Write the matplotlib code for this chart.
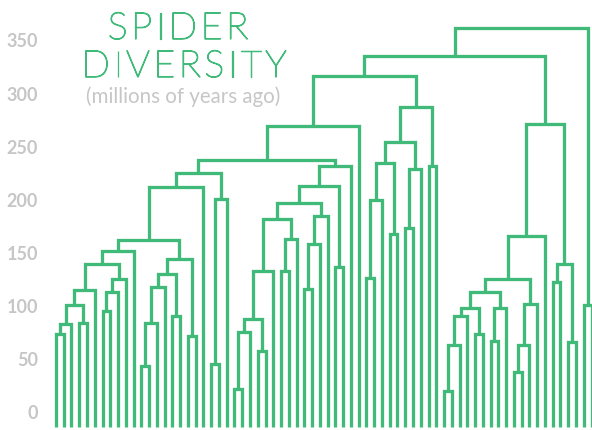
import matplotlib.pyplot as plt
import matplotlib.transforms as mtransforms
import matplotlib.patheffects as pe

plt.rcParams['font.family'] = ['Lato', 'DejaVu Sans']

GREEN = '#3fba78'
GREY = '#c6c6c6'

# tick values on the left (millions of years ago)
yticks = [0, 50, 100, 150, 200, 250, 300, 350]

n_leaves = 70
leaf_bottom = -13

# merges: (node, left child, right child, age)  -- ints are leaves
left_clade = [
    ('A', 0, 1, 74), ('B', 'A', 2, 84), ('C', 3, 4, 85), ('D', 'B', 'C', 102),
    ('E', 'D', 5, 116), ('F', 6, 7, 96), ('G', 'F', 8, 114), ('H', 'G', 9, 126),
    ('I', 'E', 'H', 140), ('J', 'I', 10, 152), ('K', 11, 12, 44.5), ('L', 'K', 13, 85),
    ('M', 'L', 14, 119), ('N', 15, 16, 91), ('O', 'M', 'N', 131), ('P', 17, 18, 72),
    ('Q', 'O', 'P', 145), ('R', 'J', 'Q', 163), ('S', 'R', 19, 213),
    ('T', 20, 21, 46), ('U', 'T', 22, 201), ('V', 'S', 'U', 226),
]
mid_clade = [
    ('a', 23, 24, 22.6), ('b', 'a', 25, 76), ('c', 26, 27, 58), ('d', 'b', 'c', 88.4),
    ('e', 'd', 28, 134), ('f', 29, 30, 134), ('g', 'f', 31, 163.7), ('h', 'e', 'g', 182.5),
    ('i', 32, 33, 117), ('j', 'i', 34, 159), ('k', 'j', 35, 185), ('l', 'h', 'k', 197.5),
    ('m', 36, 37, 137), ('n', 'l', 'm', 214), ('o', 'n', 38, 232),
    ('W', 'V', 'o', 238), ('X', 'W', 39, 270),
]
centre_clade = [
    ('p', 40, 41, 127), ('q', 'p', 42, 200.7), ('r', 43, 44, 168), ('s', 'q', 'r', 235),
    ('t', 45, 46, 173.7), ('u', 't', 47, 229.5), ('v', 's', 'u', 254.6),
    ('w', 48, 49, 232), ('x', 'v', 'w', 288), ('Y', 'X', 'x', 317),
]
right_clade = [
    ('aa', 50, 51, 21), ('bb', 'aa', 52, 64), ('cc', 'bb', 53, 91), ('dd', 54, 55, 74),
    ('ee', 'cc', 'dd', 98.5), ('ff', 56, 57, 68), ('gg', 'ff', 58, 98.5),
    ('hh', 'ee', 'gg', 113.5), ('ii', 59, 60, 39), ('jj', 'ii', 61, 64),
    ('kk', 'jj', 62, 102.5), ('ll', 'hh', 'kk', 126), ('mm', 'll', 63, 166.8),
    ('nn', 64, 65, 123), ('oo', 66, 67, 66.5), ('pp', 'nn', 'oo', 140),
    ('qq', 'mm', 'pp', 272), ('Z', 'Y', 'qq', 336),
    ('rr', 68, 69, 102), ('root', 'Z', 'rr', 362),
]

merges = left_clade + mid_clade + centre_clade + right_clade

fig = plt.figure(figsize=(5.92, 4.31), dpi=100)
ax = fig.add_axes([0, 0, 1, 1])
ax.axis('off')

pos = {i: (float(i), leaf_bottom) for i in range(n_leaves)}
for name, l, r, h in merges:
    xl, hl = pos[l]
    xr, hr = pos[r]
    ax.plot([xl, xl, xr, xr], [hl, h, h, hr], color=GREEN, lw=2.35,
            solid_joinstyle='miter', solid_capstyle='butt')
    pos[name] = ((xl + xr) / 2, h)

spacing = 7.77
ax.set_xlim(-56 / spacing, 69 + 0.5 / spacing)
ax.set_ylim(-16, 389.5)

trans = mtransforms.blended_transform_factory(ax.transAxes, ax.transData)
for v in yticks:
    ax.text(38 / 592, v, str(v), transform=trans, ha='right', va='center',
            fontsize=13, fontweight='bold', color=GREY)


def spaced(text, xc, ybase, track, **kw):
    # draw text letter by letter with extra tracking, centred at xc (pixels)
    rend = fig.canvas.get_renderer()
    widths = []
    for ch in text:
        t = fig.text(0, 0, ch, **kw)
        widths.append(t.get_window_extent(rend).width)
        t.remove()
    total = sum(widths) + track * (len(text) - 1)
    x = xc - total / 2
    for ch, w in zip(text, widths):
        fig.text(x / 592, 1 - ybase / 431, ch, ha='left', va='baseline', **kw)
        x += w + track


thicken = [pe.withStroke(linewidth=0.9, foreground=GREEN)]
spaced('SPIDER', 178, 40, 3.6, fontsize=27, fontweight='light', color=GREEN,
       path_effects=thicken)
spaced('DIVERSITY', 184, 78, 3.5, fontsize=27, fontweight='light', color=GREEN,
       path_effects=thicken)
fig.text(183.5 / 592, 1 - 103 / 431, '(millions of years ago)', ha='center',
         va='baseline', fontsize=14.8, color=GREY)

fig.savefig('out.png', dpi=100)
